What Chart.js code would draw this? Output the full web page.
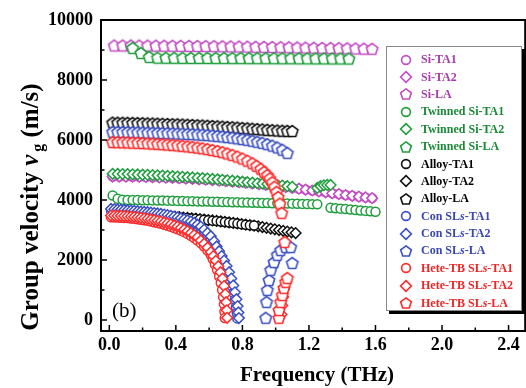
<!DOCTYPE html>
<html><head><meta charset="utf-8">
<script src="https://cdn.jsdelivr.net/npm/chart.js@4/dist/chart.umd.min.js"></script>
<style>
html,body{margin:0;padding:0;background:#fff;overflow:hidden;}
#wrap{position:relative;width:532px;height:388px;}
#legend{position:absolute;left:386px;top:46px;width:136px;height:265px;background:#fff;border:1px solid #888;box-shadow:3px 3px 0 #000;font:bold 12px "Liberation Serif",serif;box-sizing:border-box;padding-top:4px;}
.row{height:17.4px;display:flex;align-items:center;white-space:nowrap;}
.row svg{margin-left:12px;margin-right:8px;flex:none;}
</style></head><body>
<div id="wrap"><canvas id="c" width="532" height="388"></canvas><div id="legend"></div></div>
<script>
// ---------- data (frequency in THz, group velocity in m/s) ----------
const seriesNames = ['Si-TA1','Si-TA2','Si-LA','Twinned Si-TA1','Twinned Si-TA2','Twinned Si-LA','Alloy-TA1','Alloy-TA2','Alloy-LA','Con SLs-TA1','Con SLs-TA2','Con SLs-LA','Hete-TB SLs-TA1','Hete-TB SLs-TA2','Hete-TB SLs-LA'];
const xTicks = [0.0,0.4,0.8,1.2,1.6,2.0,2.4];
const yTicks = [0,2000,4000,6000,8000,10000];

const fSi = [0.02,0.06,0.10,0.14,0.18,0.22,0.26,0.30,0.34,0.38,0.42,0.46,0.50,0.54,0.58,0.62,0.66,0.70,0.74,0.78,0.82,0.86,0.90,0.94,0.98,1.02,1.06,1.10,1.14,1.18,1.22,1.26,1.30,1.34,1.38,1.42,1.46,1.50,1.54,1.58];
const vSiTA = [4780,4779,4777,4774,4770,4765,4759,4752,4744,4735,4725,4714,4702,4689,4675,4660,4644,4627,4609,4590,4570,4549,4527,4504,4480,4455,4429,4402,4374,4345,4315,4285,4255,4225,4195,4165,4137,4110,4085,4060];
const fSiLA = [0.03,0.08,0.13,0.18,0.23,0.28,0.33,0.38,0.43,0.48,0.53,0.58,0.63,0.68,0.73,0.78,0.83,0.88,0.93,0.98,1.03,1.08,1.13,1.18,1.23,1.28,1.33,1.38,1.43,1.48,1.53,1.58];
const vSiLA = [9150,9150,9150,9148,9147,9145,9143,9141,9139,9136,9133,9130,9127,9124,9120,9116,9112,9108,9104,9100,9095,9090,9085,9080,9075,9070,9065,9060,9055,9050,9045,9040];

const fTwTA1 = [0.02,0.05,0.08,0.11,0.14,0.17,0.20,0.23,0.26,0.29,0.32,0.35,0.38,0.41,0.44,0.47,0.50,0.53,0.56,0.59,0.62,0.65,0.68,0.71,0.74,0.77,0.80,0.83,0.86,0.89,0.92,0.95,0.98,1.01,1.04,1.07,1.10,1.13,1.16,1.19,1.22,1.25,
  1.33,1.36,1.39,1.42,1.45,1.48,1.51,1.54,1.57,1.60];
const vTwTA1 = [4150,4040,4010,4000,3997,3994,3991,3988,3985,3982,3979,3976,3972,3968,3964,3960,3956,3952,3948,3944,3940,3936,3932,3928,3924,3920,3916,3912,3908,3904,3900,3896,3892,3888,3884,3880,3876,3872,3868,3864,3860,3856,
  3740,3725,3710,3695,3680,3665,3650,3635,3620,3605];
const fTwTA2 = [0.02,0.05,0.08,0.11,0.14,0.17,0.20,0.23,0.26,0.29,0.32,0.35,0.38,0.41,0.44,0.47,0.50,0.53,0.56,0.59,0.62,0.65,0.68,0.71,0.74,0.77,0.80,0.83,0.86,0.89,0.92,0.95,0.98,1.01,1.04,1.07,1.10,
  1.25,1.27,1.29,1.31,1.33];
const vTwTA2 = [4870,4868,4865,4861,4856,4850,4843,4836,4828,4820,4811,4802,4792,4782,4771,4760,4749,4737,4725,4712,4699,4685,4671,4656,4641,4625,4609,4592,4575,4557,4545,4530,4515,4498,4480,4460,4440,
  4400,4460,4490,4500,4500];
const fTwLA = [0.14,0.19,0.24,0.29,0.34,0.39,0.44,0.49,0.54,0.59,0.64,0.69,0.74,0.79,0.84,0.89,0.94,0.99,1.04,1.09,1.14,1.19,1.24,1.29,1.34,1.39,1.44];
const vTwLA = [9070,8900,8770,8745,8740,8738,8736,8735,8734,8733,8732,8731,8730,8729,8728,8727,8726,8725,8724,8723,8722,8721,8720,8719,8718,8717,8716];

const fAlTA = [0.02,0.045,0.07,0.095,0.12,0.145,0.17,0.195,0.22,0.245,0.27,0.295,0.32,0.345,0.37,0.395,0.42,0.445,0.47,0.495,0.52,0.545,0.57,0.595,0.62,0.645,0.67,0.695,0.72,0.745,0.77,0.795,0.82,0.845,0.87,0.895,0.92,0.945,0.97,0.995,1.02,1.045,1.07,1.095,1.12];
const vAlTA = [3595,3585,3575,3565,3555,3545,3535,3525,3515,3505,3495,3483,3472,3460,3450,3440,3428,3415,3402,3388,3374,3360,3345,3330,3315,3300,3284,3268,3251,3234,3216,3198,3180,3162,3143,3120,3095,3070,3045,3020,2995,2970,2945,2920,2895];
const fAlTA1 = [0.02,0.045,0.07,0.095,0.12,0.145,0.17,0.195,0.22,0.245,0.27,0.295,0.32,0.345,0.37,0.395,0.42,0.445,0.47,0.495,0.52,0.545,0.57,0.595,0.62,0.645,0.67,0.695,0.72,0.745,0.77,0.795,0.82,0.845,0.87];
const vAlTA1 = [3590,3580,3570,3560,3550,3540,3530,3520,3510,3500,3490,3478,3467,3455,3445,3435,3423,3410,3397,3383,3369,3355,3340,3325,3310,3295,3279,3263,3246,3229,3211,3193,3175,3160,3150];
const fAlLA = [0.02,0.05,0.08,0.11,0.14,0.17,0.20,0.23,0.26,0.29,0.32,0.35,0.38,0.41,0.44,0.47,0.50,0.53,0.56,0.59,0.62,0.65,0.68,0.71,0.74,0.77,0.80,0.83,0.86,0.89,0.92,0.95,0.98,1.01,1.04,1.07,1.10];
const vAlLA = [6580,6578,6575,6572,6568,6564,6560,6555,6550,6545,6540,6534,6528,6522,6515,6508,6500,6492,6484,6475,6466,6456,6446,6436,6425,6414,6402,6390,6378,6365,6352,6340,6328,6318,6310,6305,6300];

const fLow = [0.01,0.03,0.05,0.07,0.09,0.11,0.13,0.15,0.17,0.19,0.21,0.23,0.25,0.27,0.29,0.31,0.33,0.35,0.37,0.39,0.41,0.43,0.45,0.47,0.49,0.51,0.53,0.55,0.57,0.59,0.61];
const fConTA1Tail = [0.625,0.64,0.655,0.67,0.685,0.70,0.713,0.725,0.736,0.746,0.754,0.761,0.766,0.769];
const vConTA1 = [3650,3642,3634,3625,3616,3607,3597,3587,3576,3565,3553,3541,3528,3514,3499,3483,3465,3445,3423,3398,3370,3340,3306,3268,3225,3175,3118,3050,2960,2850,2730,
  2610,2460,2300,2130,1950,1760,1560,1350,1130,900,670,440,230,50];
const fConTA2Tail = [0.63,0.645,0.66,0.675,0.69,0.705,0.72,0.733,0.745,0.755,0.764,0.771,0.776,0.779];
const vConTA2 = [3700,3692,3684,3675,3666,3657,3647,3637,3626,3615,3603,3591,3578,3564,3549,3533,3515,3495,3473,3448,3420,3390,3358,3322,3280,3232,3175,3110,3010,2900,2790,
  2620,2450,2290,2130,1980,1800,1590,1380,1150,920,690,460,250,60];
const fConLA = [0.02,0.05,0.08,0.11,0.14,0.17,0.20,0.23,0.26,0.29,0.32,0.35,0.38,0.41,0.44,0.47,0.50,0.53,0.56,0.59,0.62,0.65,0.68,0.71,0.74,0.77,0.80,0.83,0.86,0.89,0.92,0.95,0.98,1.01,1.04,1.07,
  0.94,0.945,0.95,0.96,0.97,0.99,1.01,1.03,1.06,1.09,1.10];
const vConLA = [6270,6268,6265,6262,6258,6254,6250,6246,6242,6238,6233,6228,6222,6216,6210,6203,6195,6186,6176,6164,6150,6135,6118,6100,6080,6057,6032,6005,5975,5942,5905,5862,5812,5752,5675,5570,
  70,600,1000,1330,1670,1930,2170,2330,2430,2430,1900];

const fHeTA1Tail = [0.622,0.635,0.648,0.66,0.67,0.678,0.684,0.689,0.692,0.694];
const vHeTA1 = [3420,3418,3414,3409,3402,3394,3384,3372,3358,3342,3325,3305,3283,3259,3233,3205,3175,3142,3106,3067,3025,2978,2926,2868,2804,2732,2650,2555,2445,2315,2160,
  2020,1850,1660,1450,1230,1000,760,520,280,60];
const fHeTA2Tail = [0.625,0.64,0.655,0.668,0.68,0.69,0.697,0.702,0.706,0.708,
  1.035,1.04,1.045,1.05];
const vHeTA2 = [3480,3478,3475,3470,3463,3455,3445,3435,3420,3405,3390,3370,3350,3328,3305,3280,3250,3220,3185,3150,3110,3065,3015,2960,2900,2830,2755,2650,2540,2410,2260,
  2130,1970,1790,1590,1380,1130,860,590,320,70,
  180,480,760,1020];
const fHeLA = [0.02,0.05,0.08,0.11,0.14,0.17,0.20,0.23,0.26,0.29,0.32,0.35,0.38,0.41,0.44,0.47,0.50,0.53,0.56,0.59,0.62,0.65,0.68,0.71,0.74,0.77,0.80,0.83,0.86,
  0.885,0.91,0.93,0.95,0.965,0.98,0.993,1.005,1.015,1.025,1.036,1.054,
  1.02,1.02,1.03,1.04,1.05,1.06,1.07];
const vHeLA = [5930,5928,5925,5920,5915,5908,5900,5892,5883,5873,5862,5850,5837,5822,5806,5789,5770,5748,5724,5697,5667,5633,5595,5552,5503,5447,5383,5310,5225,
  5140,5040,4940,4830,4720,4590,4440,4270,4100,3880,3570,2600,
  70,330,600,830,1070,1270,1400];

const seriesX = [fSi, fSi, fSiLA, fTwTA1, fTwTA2, fTwLA, fAlTA1, fAlTA, fAlLA,
  fLow.concat(fConTA1Tail), fLow.concat(fConTA2Tail), fConLA,
  fLow.concat(fHeTA1Tail), fLow.concat(fHeTA2Tail), fHeLA];
const seriesY = [vSiTA, vSiTA, vSiLA, vTwTA1, vTwTA2, vTwLA, vAlTA1, vAlTA, vAlLA,
  vConTA1, vConTA2, vConLA, vHeTA1, vHeTA2, vHeLA];

// ---------- styles ----------
const markColor = ['#c34bc3','#c34bc3','#c34bc3','#1f9e3d','#1f9e3d','#1f9e3d','#111','#111','#111','#3b4fc4','#3b4fc4','#3b4fc4','#ff2b2b','#ff2b2b','#ff2b2b'];
const textColor = ['#a83ca8','#a83ca8','#a83ca8','#1a8a35','#1a8a35','#1a8a35','#000','#000','#000','#3848b0','#3848b0','#3848b0','#f02525','#f02525','#f02525'];
const shapes = ['circle','diamond','pentagon'];

function pentagonImg(color){
  const cv=document.createElement('canvas'); cv.width=16; cv.height=16;
  const g=cv.getContext('2d'); g.beginPath();
  for(let k=0;k<5;k++){const a=-Math.PI/2+k*2*Math.PI/5; const px=8+6*Math.cos(a), py=8.6+6*Math.sin(a); if(k) g.lineTo(px,py); else g.moveTo(px,py);}
  g.closePath(); g.fillStyle='#fff'; g.fill(); g.lineWidth=1.6; g.strokeStyle=color; g.stroke(); return cv;
}
function markerSvg(shape,color){
  let el;
  if(shape==='circle') el=`<circle cx="7" cy="7" r="4.4" fill="#fff" stroke="${color}" stroke-width="1.6"/>`;
  else if(shape==='diamond') el=`<polygon points="7,1.6 12.4,7 7,12.4 1.6,7" fill="#fff" stroke="${color}" stroke-width="1.6"/>`;
  else { const p=[]; for(let k=0;k<5;k++){const a=-Math.PI/2+k*2*Math.PI/5; p.push((7+5.6*Math.cos(a)).toFixed(2)+','+(7.5+5.6*Math.sin(a)).toFixed(2));} el=`<polygon points="${p.join(' ')}" fill="#fff" stroke="${color}" stroke-width="1.6"/>`; }
  return `<svg width="14" height="14" viewBox="0 0 14 14">${el}</svg>`;
}

const n = seriesNames.length;
const datasets = seriesNames.map((name,i)=>{
  const shape = shapes[i%3];
  const col = markColor[i];
  let order = n - i;
  if (name==='Alloy-TA1') order = n - 7.5; // drawn above Alloy-TA2
  return {
    label:name,
    data: seriesX[i].map((x,k)=>({x:x, y:seriesY[i][k]})),
    showLine:false,
    pointStyle: shape==='circle' ? 'circle' : (shape==='diamond' ? 'rectRot' : pentagonImg(col)),
    pointRadius: shape==='circle' ? 4.5 : 5.3,
    pointBorderWidth:1.5,
    borderColor:col, backgroundColor:'#fff',
    pointBorderColor:col, pointBackgroundColor:'#fff',
    order: order
  };
});

// legend
document.getElementById('legend').innerHTML = seriesNames.map((name,i)=>
  `<div class="row">${markerSvg(shapes[i%3],markColor[i])}<span style="color:${textColor[i]}">${name.replace('SLs','SL<i>s</i>')}</span></div>`).join('');

const FONT = '"Liberation Serif", "Times New Roman", serif';
const decor = {
  id:'decor',
  afterDraw(chart){
    const {ctx, chartArea:a, scales:{x,y}} = chart;
    ctx.save();
    ctx.strokeStyle='#000';
    ctx.lineWidth=1.5;
    ctx.beginPath();
    x.ticks.forEach(t=>{const p=x.getPixelForValue(t.value); ctx.moveTo(p,a.bottom); ctx.lineTo(p,a.bottom-6);});
    for(let i=0;i<x.ticks.length-1;i++){const p=x.getPixelForValue((x.ticks[i].value+x.ticks[i+1].value)/2); ctx.moveTo(p,a.bottom); ctx.lineTo(p,a.bottom-3.5);}
    y.ticks.forEach(t=>{const p=y.getPixelForValue(t.value); ctx.moveTo(a.left,p); ctx.lineTo(a.left+6,p);});
    for(let i=0;i<y.ticks.length-1;i++){const p=y.getPixelForValue((y.ticks[i].value+y.ticks[i+1].value)/2); ctx.moveTo(a.left,p); ctx.lineTo(a.left+3.5,p);}
    ctx.stroke();
    ctx.lineWidth=2;
    ctx.strokeRect(a.left,a.top,a.right-a.left,a.bottom-a.top);
    // panel label
    ctx.fillStyle='#000';
    ctx.font='21px '+FONT; ctx.textBaseline='alphabetic'; ctx.textAlign='left';
    ctx.fillText('(b)',112,317);
    // x title
    ctx.font='bold 21px '+FONT; ctx.textAlign='center';
    ctx.fillText('Frequency (THz)',317,381);
    // y title with italic v and subscript g
    const f1='bold 25px '+FONT, fv='bold italic 25px '+FONT, fg='bold 16px '+FONT;
    const p1='Group velocity ', pv='v', pg='g', p3=' (m/s)';
    ctx.font=f1; const w1=ctx.measureText(p1).width, w3=ctx.measureText(p3).width;
    ctx.font=fv; const wv=ctx.measureText(pv).width;
    ctx.font=fg; const wg=ctx.measureText(pg).width;
    const W=w1+wv+3+wg+w3;
    ctx.translate(38,207); ctx.rotate(-Math.PI/2); ctx.textAlign='left';
    let cx=-W/2;
    ctx.font=f1; ctx.fillText(p1,cx,0); cx+=w1;
    ctx.font=fv; ctx.fillText(pv,cx,0); cx+=wv+3;
    ctx.font=fg; ctx.fillText(pg,cx,5); cx+=wg;
    ctx.font=f1; ctx.fillText(p3,cx,0);
    ctx.restore();
  }
};

new Chart(document.getElementById('c'), {
  type:'scatter',
  data:{datasets},
  options:{
    responsive:false, animation:false, devicePixelRatio:1,
    layout:{padding:{left:0,top:20,right:2,bottom:0}},
    plugins:{legend:{display:false}, tooltip:{enabled:false}},
    scales:{
      x:{type:'linear', min:-0.05, max:2.5,
        grid:{display:false, drawTicks:false}, border:{display:false},
        afterBuildTicks(s){ s.ticks = xTicks.map(v=>({value:v})); },
        ticks:{padding:4, color:'#000', font:{family:FONT, size:18, weight:'bold'}, autoSkip:false, maxRotation:0,
          callback:v=> Number(v).toFixed(1)},
        afterFit(s){ s.height=57; s.paddingLeft=0; s.paddingRight=0; }},
      y:{type:'linear', min:-370, max:10000,
        grid:{display:false, drawTicks:false}, border:{display:false},
        afterBuildTicks(s){ s.ticks = yTicks.map(v=>({value:v})); },
        ticks:{padding:8, color:'#000', font:{family:FONT, size:18, weight:'bold'}, autoSkip:false,
          callback:v=> String(v)},
        afterFit(s){ s.width=101; s.paddingTop=0; s.paddingBottom=0; }}
    }
  },
  plugins:[decor]
});
</script></body></html>
